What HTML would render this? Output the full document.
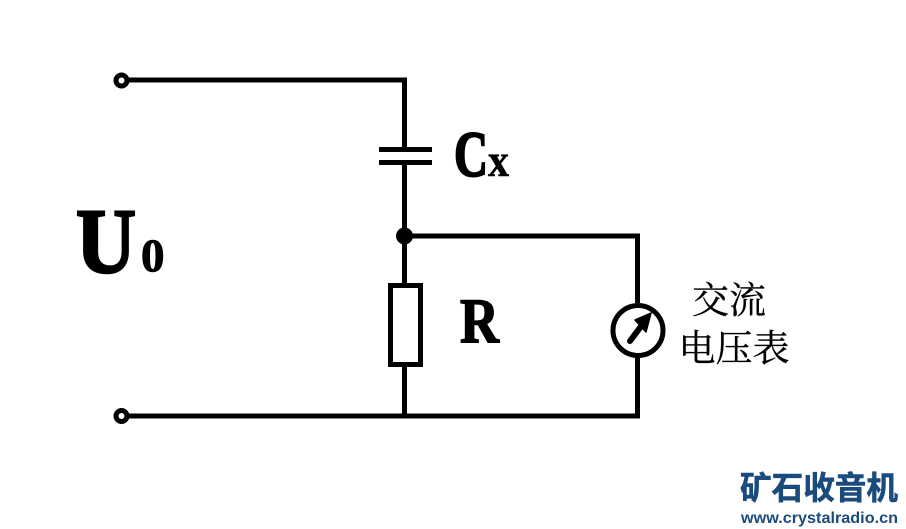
<!DOCTYPE html>
<html><head><meta charset="utf-8"><style>
html,body{margin:0;padding:0;background:#fff;width:906px;height:529px;overflow:hidden}
svg{display:block}
</style></head><body>
<svg width="906" height="529" viewBox="0 0 906 529" xmlns="http://www.w3.org/2000/svg">
<rect width="906" height="529" fill="#fff"/>
<g fill="none" stroke="#000" stroke-width="5">
<path d="M127 80H404.5V149M404.5 162V283M404.5 236H637.5V303M637.5 358V416H127"/>
<path d="M404.5 367V416"/>
<path d="M379 149.500H432M379 162.500H432"/>
<rect x="390.500" y="285.500" width="30" height="79"/>
<circle cx="121.500" cy="80.500" r="5.500"/>
<circle cx="121.500" cy="416" r="5.500"/>
<circle cx="638" cy="330.500" r="25"/>
<path d="M630 341L642 325" stroke-linecap="round" stroke-width="6"/>
</g>
<circle cx="404.500" cy="236" r="8.500"/>
<path d="M651 313L635 320L646 332Z" stroke="#000" stroke-width="1.500" stroke-linejoin="round"/>
<g font-family="'Liberation Serif',serif" font-weight="bold" fill="#000" stroke="#000">
<text x="76" y="272" font-size="92" textLength="60" lengthAdjust="spacingAndGlyphs" stroke-width="2.500">U</text>
<text x="141" y="271" font-size="47" stroke-width="1">0</text>
<text x="454" y="176" font-size="65" textLength="34" lengthAdjust="spacingAndGlyphs" stroke-width="2">C</text>
<text x="488" y="176" font-size="47" textLength="21" lengthAdjust="spacingAndGlyphs" stroke-width="0.500">x</text>
<text x="460" y="342" font-size="64" textLength="39" lengthAdjust="spacingAndGlyphs" stroke-width="1.500">R</text>
</g>
<g font-family="'Liberation Serif','Noto Serif CJK SC',serif" fill="#000" font-size="37" stroke="#000" stroke-width="0.300">
<text x="692" y="313">交流</text>
<text x="678.500" y="361">电压表</text>
</g>
<text x="740" y="499" font-family="'Liberation Sans','Noto Sans CJK SC',sans-serif" font-weight="bold" font-size="32" fill="#1b4b7d" stroke="#1b4b7d" stroke-width="0.600" textLength="158" lengthAdjust="spacingAndGlyphs">矿石收音机</text>
<text x="741" y="523" font-family="'Liberation Sans',sans-serif" font-weight="bold" font-size="15.500" fill="#1b4b7d" textLength="157" lengthAdjust="spacingAndGlyphs">www.crystalradio.cn</text>
</svg>
</body></html>
